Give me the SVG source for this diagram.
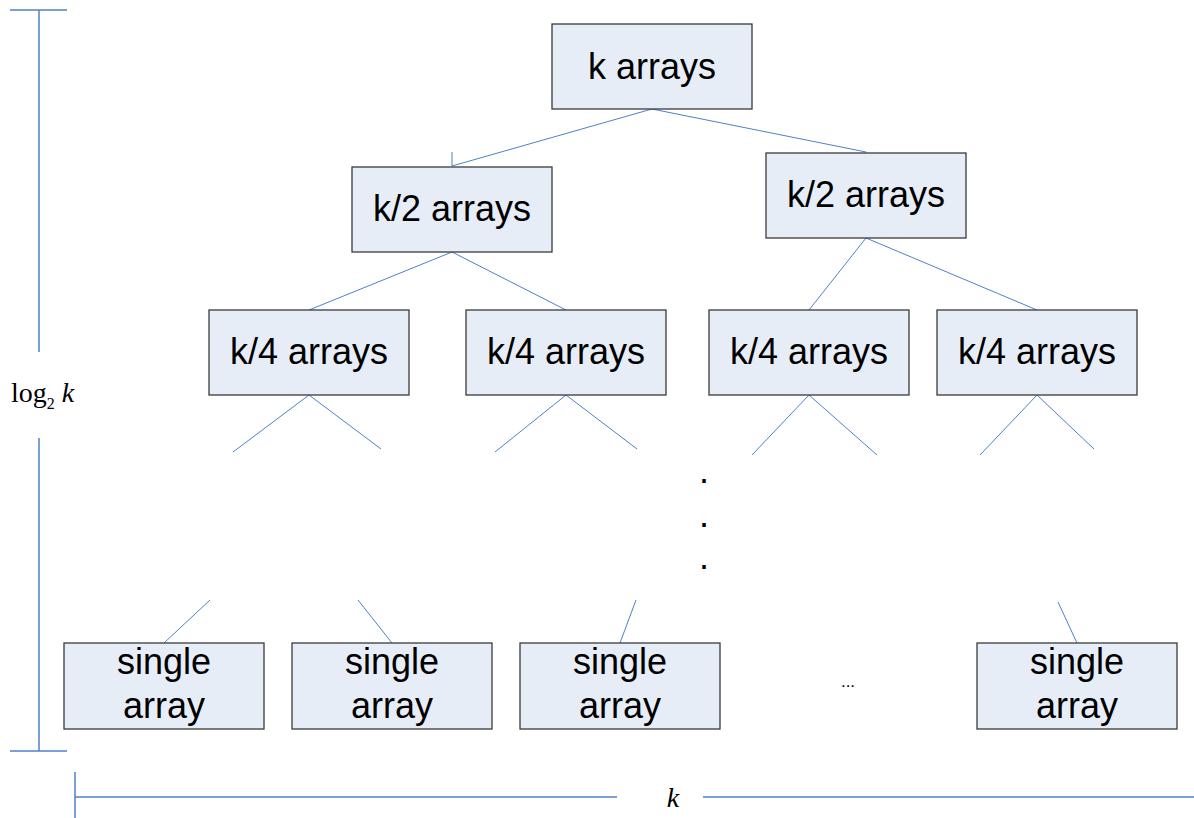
<svg xmlns="http://www.w3.org/2000/svg" width="1194" height="818" viewBox="0 0 1194 818">
<style>
.box{fill:#e7edf7;stroke:#3a3a3a;stroke-width:1.3}
.lbl{font-family:"Liberation Sans",Arial,sans-serif;font-size:36px;fill:#000;text-anchor:middle}
.con{stroke:#4f81c7;stroke-width:1;fill:none}
.dim{stroke:#4f81c7;stroke-width:1.5;fill:none}
.math{font-family:"Liberation Serif","Times New Roman",serif;fill:#000}
</style>
<rect width="1194" height="818" fill="#fff"/>
<g id="connectors">
<line class="con" x1="652" y1="109" x2="452" y2="166"/>
<line class="con" x1="452" y1="152" x2="452" y2="166"/>
<line class="con" x1="652" y1="109" x2="866" y2="152"/>
<line class="con" x1="452" y1="252" x2="309" y2="310"/>
<line class="con" x1="452" y1="252" x2="566" y2="310"/>
<line class="con" x1="866" y1="238" x2="809" y2="310"/>
<line class="con" x1="866" y1="238" x2="1037" y2="310"/>
<line class="con" x1="309" y1="395" x2="233" y2="452"/>
<line class="con" x1="309" y1="395" x2="381" y2="449"/>
<line class="con" x1="566" y1="395" x2="495" y2="452"/>
<line class="con" x1="566" y1="395" x2="637" y2="449"/>
<line class="con" x1="809" y1="395" x2="752" y2="455"/>
<line class="con" x1="809" y1="395" x2="877" y2="455"/>
<line class="con" x1="1037" y1="395" x2="980" y2="455"/>
<line class="con" x1="1037" y1="395" x2="1094" y2="449"/>
<line class="con" x1="210" y1="600" x2="164" y2="643"/>
<line class="con" x1="358" y1="600" x2="392" y2="643"/>
<line class="con" x1="636" y1="600" x2="620" y2="643"/>
<line class="con" x1="1058" y1="602" x2="1077" y2="643"/>
</g>
<g id="n_top"><rect class="box" x="552" y="24" width="200" height="85"/><text class="lbl" x="652" y="79">k arrays</text></g>
<g id="n_half_l"><rect class="box" x="352" y="167" width="200" height="85"/><text class="lbl" x="452" y="221">k/2 arrays</text></g>
<g id="n_half_r"><rect class="box" x="766" y="153" width="200" height="85"/><text class="lbl" x="866" y="207">k/2 arrays</text></g>
<g id="n_q1"><rect class="box" x="209" y="310" width="200" height="85"/><text class="lbl" x="309" y="364">k/4 arrays</text></g>
<g id="n_q2"><rect class="box" x="466" y="310" width="200" height="85"/><text class="lbl" x="566" y="364">k/4 arrays</text></g>
<g id="n_q3"><rect class="box" x="709" y="310" width="200" height="85"/><text class="lbl" x="809" y="364">k/4 arrays</text></g>
<g id="n_q4"><rect class="box" x="937" y="310" width="200" height="85"/><text class="lbl" x="1037" y="364">k/4 arrays</text></g>
<g id="n_s1"><rect class="box" x="64" y="643" width="200" height="86"/><text class="lbl" x="164" y="674">single</text><text class="lbl" x="164" y="718">array</text></g>
<g id="n_s2"><rect class="box" x="292" y="643" width="200" height="86"/><text class="lbl" x="392" y="674">single</text><text class="lbl" x="392" y="718">array</text></g>
<g id="n_s3"><rect class="box" x="520" y="643" width="200" height="86"/><text class="lbl" x="620" y="674">single</text><text class="lbl" x="620" y="718">array</text></g>
<g id="n_s4"><rect class="box" x="977" y="643" width="200" height="86"/><text class="lbl" x="1077" y="674">single</text><text class="lbl" x="1077" y="718">array</text></g>
<g id="ellipsis">
<text class="lbl" x="704" y="483">.</text>
<text class="lbl" x="704" y="527">.</text>
<text class="lbl" x="704" y="569">.</text>
<text x="848" y="687" font-family="Liberation Sans,Arial,sans-serif" font-size="17" text-anchor="middle">...</text>
</g>
<g id="dim_height">
<line class="dim" x1="10" y1="10" x2="67" y2="10"/>
<line class="dim" x1="39" y1="10" x2="39" y2="352"/>
<line class="dim" x1="39" y1="438" x2="39" y2="751"/>
<line class="dim" x1="10" y1="751" x2="67" y2="751"/>
<text class="math" x="11" y="402" font-size="28">log<tspan font-size="16" dy="7">2</tspan><tspan dy="-7" font-style="italic"> k</tspan></text>
</g>
<g id="dim_width">
<line class="dim" x1="75" y1="772" x2="75" y2="818"/>
<line class="dim" x1="75" y1="797" x2="617" y2="797"/>
<line class="dim" x1="703" y1="797" x2="1194" y2="797"/>
<text class="math" x="673" y="807" font-size="28" font-style="italic" text-anchor="middle">k</text>
</g>
</svg>
